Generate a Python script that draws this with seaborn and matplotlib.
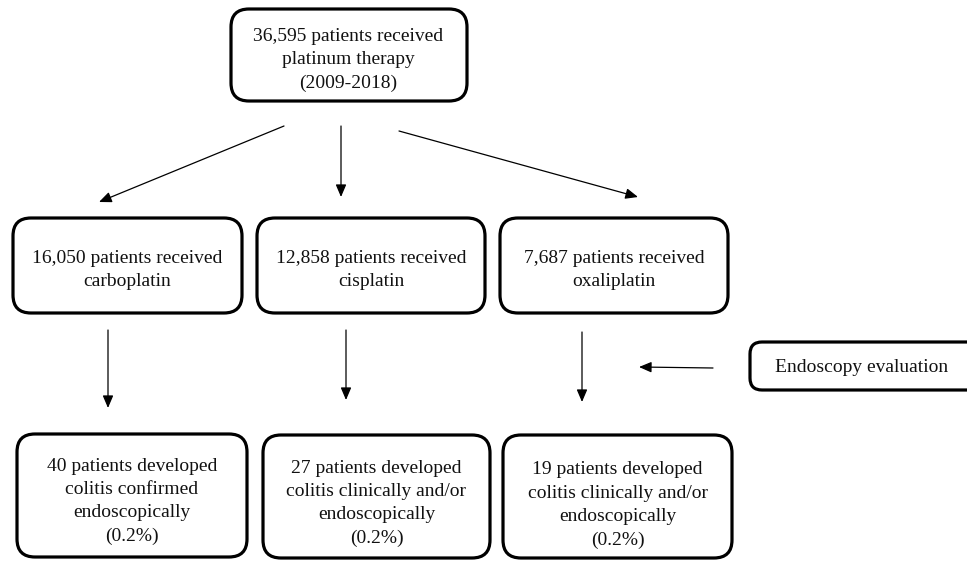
import matplotlib
matplotlib.use("Agg")
import matplotlib.pyplot as plt
import seaborn as sns
from matplotlib.patches import FancyBboxPatch, FancyArrowPatch

sns.set_theme(style="white")
plt.rcParams['font.family'] = ['Liberation Serif', 'DejaVu Serif']

# ---- data ----
total_patients = 36595
period = "2009-2018"
drugs = ["carboplatin", "cisplatin", "oxaliplatin"]
drug_patients = [16050, 12858, 7687]
colitis_patients = [40, 27, 19]
colitis_pct = [0.2, 0.2, 0.2]
colitis_desc = ["colitis confirmed\nendoscopically",
                "colitis clinically and/or\nendoscopically",
                "colitis clinically and/or\nendoscopically"]
side_label = "Endoscopy evaluation"

# ---- layout (pixels) ----
W, H = 967, 561
fig = plt.figure(figsize=(W / 100, H / 100), dpi=100)
ax = fig.add_axes([0, 0, 1, 1])
ax.set_xlim(0, W)
ax.set_ylim(H, 0)
ax.axis("off")

FS = 14
BOX_LW = 2.3
ARROW_LW = 0.9


def box(x0, y0, x1, y1, r=18):
    p = FancyBboxPatch((x0, y0), x1 - x0, y1 - y0,
                       boxstyle=f"round,pad=0,rounding_size={r}",
                       fc="white", ec="black", lw=BOX_LW, clip_on=True)
    ax.add_patch(p)


def arrow(x0, y0, x1, y1):
    a = FancyArrowPatch((x0, y0), (x1, y1),
                        arrowstyle="-|>,head_length=0.75,head_width=0.32",
                        mutation_scale=10, lw=ARROW_LW, color="black",
                        shrinkA=0, shrinkB=0)
    ax.add_patch(a)


def label(x, y, s, ls=1.48):
    ax.text(x, y, s, ha="center", va="center", fontsize=FS,
            color="#111111", linespacing=ls)


# top box
box(231, 9, 467, 101)
label(348, 60, f"{total_patients:,} patients received\nplatinum therapy\n({period})", ls=1.52)

# row 2
row2 = [(13, 242), (257, 485), (500, 728)]
for (x0, x1), d, n in zip(row2, drugs, drug_patients):
    box(x0, 218, x1, 313)
    label((x0 + x1) / 2, 270, f"{n:,} patients received\n{d}", ls=1.42)

# arrows from top
arrow(284, 126, 99, 202)
arrow(341, 126, 341, 197)
arrow(399, 131, 638, 197)

# row 3
row3 = [(17, 247, 434, 557, 501.5), (263, 490, 435, 558, 503.5), (503, 732, 435, 558, 505)]
for (x0, x1, y0, y1, ty), n, desc, pct in zip(row3, colitis_patients, colitis_desc, colitis_pct):
    box(x0, y0, x1, y1)
    label((x0 + x1) / 2, ty, f"{n} patients developed\n{desc}\n({pct}%)")

# down arrows
arrow(108, 330, 108, 408)
arrow(346, 330, 346, 400)
arrow(582, 332, 582, 402)

# side box (right edge runs off the canvas)
box(750, 342, 985, 390, r=12)
label(862, 367, side_label)
arrow(713, 368, 639, 367)

fig.savefig("out.png", dpi=100)
